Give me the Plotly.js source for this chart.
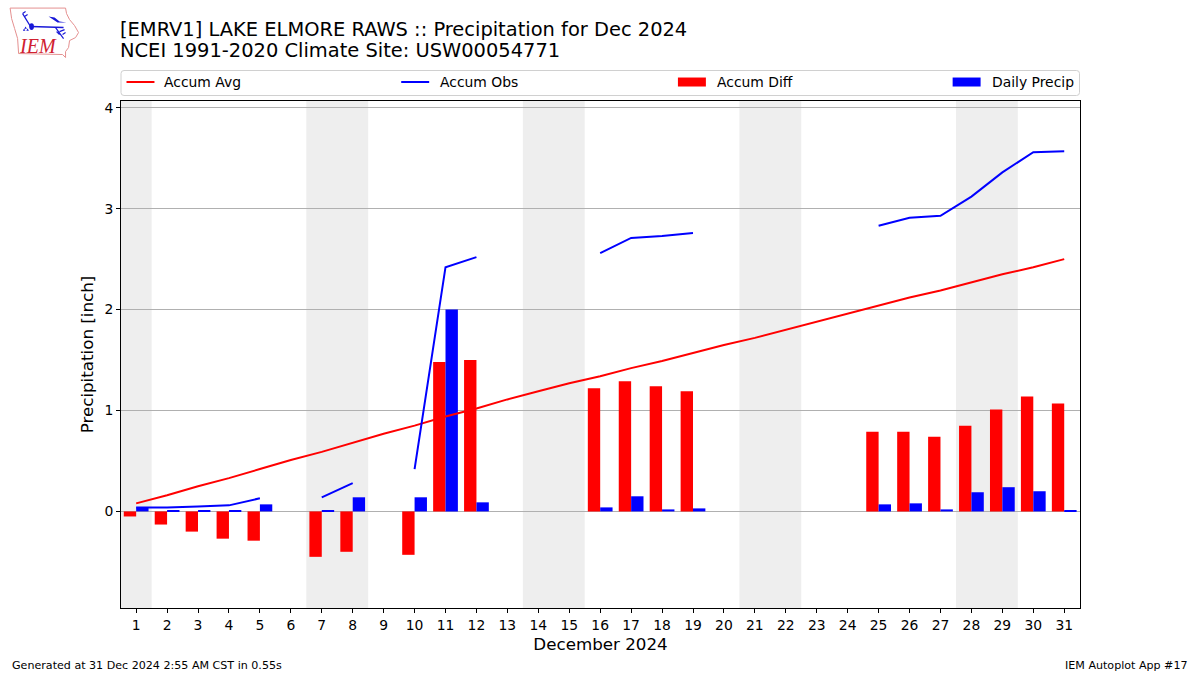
<!DOCTYPE html>
<html><head><meta charset="utf-8">
<script src="https://cdn.plot.ly/plotly-3.0.1.min.js"></script>
<style>html,body{margin:0;padding:0;background:#fff}</style></head>
<body><div id="chart" style="width:1200px;height:675px"></div>
<script>
const days = [1,2,3,4,5,6,7,8,9,10,11,12,13,14,15,16,17,18,19,20,21,22,23,24,25,26,27,28,29,30,31];
const accumAvg = [0.08,0.16,0.25,0.33,0.42,0.51,0.59,0.68,0.77,0.85,0.94,1.02,1.11,1.19,1.27,1.34,1.42,1.49,1.57,1.65,1.72,1.80,1.88,1.96,2.04,2.12,2.19,2.27,2.35,2.42,2.50];
const accumObs = [0.04,0.04,0.05,0.06,0.13,null,0.14,0.28,null,0.42,2.42,2.52,null,null,null,2.56,2.71,2.73,2.76,null,null,null,null,null,2.83,2.91,2.93,3.12,3.36,3.56,3.57];
const accumDiff = [-0.05,-0.13,-0.20,-0.27,-0.29,null,-0.45,-0.40,null,-0.43,1.48,1.50,null,null,null,1.22,1.29,1.24,1.19,null,null,null,null,null,0.79,0.79,0.74,0.85,1.01,1.14,1.07];
const dailyPrecip = [0.04,0.01,0.01,0.01,0.07,null,0.01,0.14,null,0.14,2.00,0.09,null,null,null,0.04,0.15,0.02,0.03,null,null,null,null,null,0.07,0.08,0.02,0.19,0.24,0.20,0.01];
const weekends = [[0.5,1.5],[6.5,8.5],[13.5,15.5],[20.5,22.5],[27.5,29.5]];
const barW = 0.4;
const RED='#ff0000', BLUE='#0000ff';

const W=1200,H=675,L=120.5,R=1080.5,T=100.5,B=608;
const px = x=>(x-L)/(R-L), py = y=>(B-y)/(B-T);
const logo = `<svg xmlns="http://www.w3.org/2000/svg" width="80" height="60" viewBox="0 0 80 60">
<path d="M9.5 7.5 L65 7.5 L66 13 L69 19 L74 25 L78 32 L75 37 L69 40 L68 47 L65 51 L65 57 L62 54 L18 53 L17 38 L14 28 L11 18 Z" fill="#fff" stroke="#e49090" stroke-width="1"/>
<path d="M30 26 L63 27" stroke="#1818d8" stroke-width="1.5" fill="none"/>
<path d="M30 26 L22 13 M22 13 L25 11 M24 16 L27 14" stroke="#1818d8" stroke-width="1.2" fill="none"/>
<ellipse cx="31" cy="26" rx="2.4" ry="3.4" fill="#1818d8"/>
<path d="M48 16 L54 17 L59 21 L66 22 L57 22 Z" fill="#1818d8"/>
<path d="M55 27 L63 38 M59 31 L64 29 M62 34 L65 32 M56 31 L59 34" stroke="#1818d8" stroke-width="1.2" fill="none"/>
<path d="M25 26 l1.3 2.2 h-2.6 z M23.5 28 l1.3 2.2 h-2.6 z M27 28 l1.3 2.2 h-2.6 z" fill="#1818d8"/>
</svg>`;

const names = ['Accum Avg','Accum Obs','Accum Diff','Daily Precip'];
const common = {x:days, showlegend:false};
const traces = [
 {...common, name:names[0], y:accumAvg, type:'scatter', mode:'lines', line:{color:RED,width:2}},
 {...common, name:names[1], y:accumObs, type:'scatter', mode:'lines', line:{color:BLUE,width:2}, connectgaps:false},
 {...common, name:names[2], y:accumDiff, type:'bar', width:barW, offset:-barW, marker:{color:RED,line:{width:0}}},
 {...common, name:names[3], y:dailyPrecip, type:'bar', width:barW, offset:0, marker:{color:BLUE,line:{width:0}}}
];
const paperShape = o=>({xref:'paper',yref:'paper',...o});
const shapes = weekends.map(w=>({type:'rect',xref:'x',yref:'paper',x0:w[0],x1:w[1],y0:0,y1:1,fillcolor:'#eeeeee',line:{width:0},layer:'below'}));
// rounded legend frame
const fl=120.5, fr=1080, ft=70, fb=95, r=3;
const fp=(x,y)=>px(x)+','+py(y);
shapes.push(paperShape({type:'path',path:`M${fp(fl+r,ft)} L${fp(fr-r,ft)} Q${fp(fr,ft)} ${fp(fr,ft+r)} L${fp(fr,fb-r)} Q${fp(fr,fb)} ${fp(fr-r,fb)} L${fp(fl+r,fb)} Q${fp(fl,fb)} ${fp(fl,fb-r)} L${fp(fl,ft+r)} Q${fp(fl,ft)} ${fp(fl+r,ft)} Z`,fillcolor:'#fff',line:{color:'#d0d0d0',width:1}}));
// legend keys
shapes.push(paperShape({type:'line',x0:px(126),x1:px(154),y0:py(81.5),y1:py(81.5),line:{color:RED,width:2}}));
shapes.push(paperShape({type:'line',x0:px(401),x1:px(429),y0:py(81.5),y1:py(81.5),line:{color:BLUE,width:2}}));
shapes.push(paperShape({type:'rect',x0:px(678),x1:px(706),y0:py(77),y1:py(86),fillcolor:RED,line:{width:0}}));
shapes.push(paperShape({type:'rect',x0:px(953),x1:px(981),y0:py(77),y1:py(86),fillcolor:BLUE,line:{width:0}}));

const textAt=(x,y,text,size,anchor='left',extra={})=>({xref:'paper',yref:'paper',x:px(x),y:py(y),xanchor:anchor,yanchor:'middle',showarrow:false,align:anchor,text,font:{size},...extra});
const layout = {
 width:W,height:H,paper_bgcolor:'#fff',plot_bgcolor:'#fff',
 margin:{l:L,r:W-R,t:T,b:H-B,pad:0},
 font:{family:'DejaVu Sans',size:13.9,color:'#000'},
 barmode:'overlay',hovermode:false,showlegend:false,
 xaxis:{range:[0.51,31.51],tickmode:'array',tickvals:days,ticktext:days.map(String),ticks:'outside',ticklen:4,tickwidth:1,tickcolor:'#000',showline:true,linecolor:'#000',linewidth:1,mirror:true,showgrid:false,zeroline:false,title:{text:'December 2024',font:{size:16.7},standoff:6},tickangle:0},
 yaxis:{range:[-0.957,4.067],tickvals:[0,1,2,3,4],ticktext:['0','1','2','3','4'],ticks:'outside',ticklen:4,tickwidth:1,tickcolor:'#000',showline:true,linecolor:'#000',linewidth:1,mirror:true,showgrid:true,gridcolor:'#b0b0b0',gridwidth:1.1,zeroline:true,zerolinecolor:'#b0b0b0',zerolinewidth:1.1,title:{text:'Precipitation [inch]',font:{size:16.7},standoff:6}},
 shapes,
 images:[{source:'data:image/svg+xml;charset=utf-8,'+encodeURIComponent(logo),xref:'paper',yref:'paper',x:px(0),y:py(0),sizex:80/(R-L),sizey:60/(B-T),xanchor:'left',yanchor:'top',layer:'above',sizing:'stretch'}],
 annotations:[
  textAt(117.2,28.5,'[EMRV1] LAKE ELMORE RAWS :: Precipitation for Dec 2024',19.44),
  textAt(117.2,50,'NCEI 1991-2020 Climate Site: USW00054771',19.44),
  textAt(9,666,'Generated at 31 Dec 2024 2:55 AM CST in 0.55s',11.1),
  textAt(1191,666,'IEM Autoplot App #17',11.1,'right'),
  textAt(162,81,names[0],13.9),
  textAt(438,81,names[1],13.9),
  textAt(715,81,names[2],13.9),
  textAt(990,81,names[3],13.9),
  {xref:'paper',yref:'paper',x:px(37.5),y:py(45),xanchor:'center',yanchor:'middle',showarrow:false,text:'<i>IEM</i>',font:{family:'Liberation Serif',size:20,color:'#d02030'}}
 ]
};
Plotly.newPlot('chart',traces,layout,{displayModeBar:false});
</script></body></html>
